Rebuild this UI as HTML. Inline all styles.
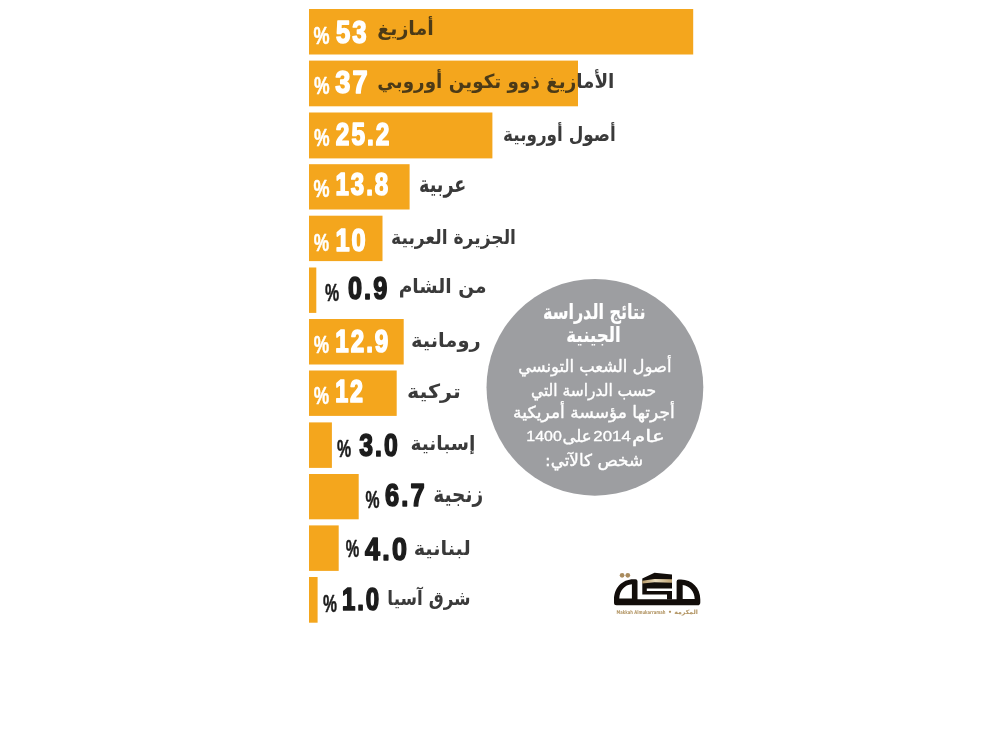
<!DOCTYPE html>
<html lang="ar">
<head>
<meta charset="utf-8">
<title>نتائج الدراسة الجينية</title>
<style>
html,body{margin:0;padding:0;background:#fff;}
body{width:1000px;height:750px;overflow:hidden;}
svg{display:block;}
.num{font-family:"Liberation Sans",sans-serif;font-weight:bold;}
.pct{font-family:"Liberation Sans",sans-serif;font-weight:bold;}
.lbl{font-family:"DejaVu Sans","Liberation Sans",sans-serif;}
.lblb{font-family:"DejaVu Sans","Liberation Sans",sans-serif;font-weight:bold;}
.ct{font-family:"DejaVu Sans","Liberation Sans",sans-serif;}
.ctb{font-family:"DejaVu Sans","Liberation Sans",sans-serif;font-weight:bold;}
.cnum{font-family:"Liberation Sans",sans-serif;}
.tag{font-family:"DejaVu Sans","Liberation Sans",sans-serif;}
</style>
</head>
<body>
<svg width="1000" height="750" viewBox="0 0 1000 750">
<g fill="#F4A61D">
<rect x="309.0" y="9.0" width="384.2" height="45.5"/>
<rect x="309.0" y="60.6" width="269.0" height="45.7"/>
<rect x="309.0" y="112.5" width="183.4" height="45.9"/>
<rect x="309.0" y="164.2" width="100.6" height="45.3"/>
<rect x="309.0" y="215.7" width="73.5" height="45.4"/>
<rect x="309.0" y="267.5" width="7.3" height="45.4"/>
<rect x="309.0" y="319.0" width="94.7" height="45.5"/>
<rect x="309.0" y="370.5" width="87.7" height="45.4"/>
<rect x="309.0" y="422.4" width="22.9" height="45.5"/>
<rect x="309.0" y="474.0" width="49.7" height="45.3"/>
<rect x="309.0" y="525.4" width="29.7" height="45.5"/>
<rect x="309.0" y="577.0" width="8.6" height="45.7"/>
</g>
<circle cx="594.9" cy="387.3" r="108.4" fill="#9D9EA1"/>
<defs><linearGradient id="lbl2" gradientUnits="userSpaceOnUse" x1="300" y1="0" x2="700" y2="0"><stop offset="0.6950" stop-color="#4b3a17"/><stop offset="0.6950" stop-color="#3A3A3A"/></linearGradient><linearGradient id="gold" x1="0" x2="1" y1="0" y2="0"><stop offset="0" stop-color="#b59765"/><stop offset="0.45" stop-color="#e8dabc"/><stop offset="1" stop-color="#bfa373"/></linearGradient></defs>
<text class="pct" x="313.50" y="43.50" font-size="23.50" fill="#fff" stroke="#fff" stroke-width="0.50" stroke-linejoin="round" textLength="16.05" lengthAdjust="spacingAndGlyphs">%</text>
<text class="num" transform="translate(336.00,43.00) scale(0.8017,1)" font-size="32.00" letter-spacing="2.60" fill="#fff" stroke="#fff" stroke-width="1.50" stroke-linejoin="round" vector-effect="non-scaling-stroke">53</text>
<text class="lblb" x="433.80" y="35.40" font-size="19.50" fill="#4b3a17" textLength="56.52" lengthAdjust="spacingAndGlyphs" direction="rtl">أمازيغ</text>
<text class="pct" x="313.90" y="94.20" font-size="23.50" fill="#fff" stroke="#fff" stroke-width="0.50" stroke-linejoin="round" textLength="15.57" lengthAdjust="spacingAndGlyphs">%</text>
<text class="num" transform="translate(335.20,93.40) scale(0.8493,1)" font-size="32.00" letter-spacing="2.60" fill="#fff" stroke="#fff" stroke-width="1.50" stroke-linejoin="round" vector-effect="non-scaling-stroke">37</text>
<text class="lblb" x="614.40" y="88.00" font-size="19.50" fill="url(#lbl2)" textLength="237.13" lengthAdjust="spacingAndGlyphs" direction="rtl">الأمازيغ ذوو تكوين أوروبي</text>
<text class="pct" x="313.90" y="146.20" font-size="23.50" fill="#fff" stroke="#fff" stroke-width="0.50" stroke-linejoin="round" textLength="15.57" lengthAdjust="spacingAndGlyphs">%</text>
<text class="num" transform="translate(335.80,145.40) scale(0.7644,1)" font-size="32.00" letter-spacing="2.60" fill="#fff" stroke="#fff" stroke-width="1.50" stroke-linejoin="round" vector-effect="non-scaling-stroke">25.2</text>
<text class="lblb" x="615.80" y="140.50" font-size="19.50" fill="#3A3A3A" textLength="112.70" lengthAdjust="spacingAndGlyphs" direction="rtl">أصول أوروبية</text>
<text class="pct" x="313.50" y="196.50" font-size="23.50" fill="#fff" stroke="#fff" stroke-width="0.50" stroke-linejoin="round" textLength="16.05" lengthAdjust="spacingAndGlyphs">%</text>
<text class="num" transform="translate(335.50,195.00) scale(0.7513,1)" font-size="32.00" letter-spacing="2.60" fill="#fff" stroke="#fff" stroke-width="1.50" stroke-linejoin="round" vector-effect="non-scaling-stroke">13.8</text>
<text class="lblb" x="466.30" y="192.00" font-size="22.50" fill="#3A3A3A" textLength="47.28" lengthAdjust="spacingAndGlyphs" direction="rtl">عربية</text>
<text class="pct" x="313.80" y="251.20" font-size="23.50" fill="#fff" stroke="#fff" stroke-width="0.50" stroke-linejoin="round" textLength="15.37" lengthAdjust="spacingAndGlyphs">%</text>
<text class="num" transform="translate(335.40,250.80) scale(0.7934,1)" font-size="32.00" letter-spacing="2.60" fill="#fff" stroke="#fff" stroke-width="1.50" stroke-linejoin="round" vector-effect="non-scaling-stroke">10</text>
<text class="lblb" x="516.00" y="244.20" font-size="19.50" fill="#3A3A3A" textLength="124.94" lengthAdjust="spacingAndGlyphs" direction="rtl">الجزيرة العربية</text>
<text class="pct" x="324.90" y="301.00" font-size="23.50" fill="#1C1C1C" stroke="#1C1C1C" stroke-width="0.50" stroke-linejoin="round" textLength="14.15" lengthAdjust="spacingAndGlyphs">%</text>
<text class="num" transform="translate(348.00,299.20) scale(0.7905,1)" font-size="32.00" letter-spacing="2.60" fill="#1C1C1C" stroke="#1C1C1C" stroke-width="1.50" stroke-linejoin="round" vector-effect="non-scaling-stroke">0.9</text>
<text class="lblb" x="486.50" y="292.50" font-size="19.50" fill="#3A3A3A" textLength="87.84" lengthAdjust="spacingAndGlyphs" direction="rtl">من الشام</text>
<text class="pct" x="313.80" y="353.40" font-size="23.50" fill="#fff" stroke="#fff" stroke-width="0.50" stroke-linejoin="round" textLength="15.37" lengthAdjust="spacingAndGlyphs">%</text>
<text class="num" transform="translate(335.30,352.00) scale(0.7559,1)" font-size="32.00" letter-spacing="2.60" fill="#fff" stroke="#fff" stroke-width="1.50" stroke-linejoin="round" vector-effect="non-scaling-stroke">12.9</text>
<text class="lblb" x="480.70" y="347.00" font-size="19.50" fill="#3A3A3A" textLength="69.66" lengthAdjust="spacingAndGlyphs" direction="rtl">رومانية</text>
<text class="pct" x="313.80" y="403.80" font-size="23.50" fill="#fff" stroke="#fff" stroke-width="0.50" stroke-linejoin="round" textLength="15.37" lengthAdjust="spacingAndGlyphs">%</text>
<text class="num" transform="translate(335.20,402.00) scale(0.7290,1)" font-size="32.00" letter-spacing="2.60" fill="#fff" stroke="#fff" stroke-width="1.50" stroke-linejoin="round" vector-effect="non-scaling-stroke">12</text>
<text class="lblb" x="460.80" y="398.00" font-size="19.50" fill="#3A3A3A" textLength="53.78" lengthAdjust="spacingAndGlyphs" direction="rtl">تركية</text>
<text class="pct" x="336.90" y="457.40" font-size="23.50" fill="#1C1C1C" stroke="#1C1C1C" stroke-width="0.50" stroke-linejoin="round" textLength="14.15" lengthAdjust="spacingAndGlyphs">%</text>
<text class="num" transform="translate(359.30,456.00) scale(0.7739,1)" font-size="32.00" letter-spacing="2.60" fill="#1C1C1C" stroke="#1C1C1C" stroke-width="1.50" stroke-linejoin="round" vector-effect="non-scaling-stroke">3.0</text>
<text class="lblb" x="475.40" y="449.60" font-size="19.50" fill="#3A3A3A" textLength="64.96" lengthAdjust="spacingAndGlyphs" direction="rtl">إسبانية</text>
<text class="pct" x="365.40" y="507.60" font-size="23.50" fill="#1C1C1C" stroke="#1C1C1C" stroke-width="0.50" stroke-linejoin="round" textLength="14.01" lengthAdjust="spacingAndGlyphs">%</text>
<text class="num" transform="translate(385.10,506.20) scale(0.7948,1)" font-size="32.00" letter-spacing="2.60" fill="#1C1C1C" stroke="#1C1C1C" stroke-width="1.50" stroke-linejoin="round" vector-effect="non-scaling-stroke">6.7</text>
<text class="lblb" x="483.10" y="501.60" font-size="22.50" fill="#3A3A3A" textLength="49.89" lengthAdjust="spacingAndGlyphs" direction="rtl">زنجية</text>
<text class="pct" x="345.70" y="557.20" font-size="23.50" fill="#1C1C1C" stroke="#1C1C1C" stroke-width="0.50" stroke-linejoin="round" textLength="13.48" lengthAdjust="spacingAndGlyphs">%</text>
<text class="num" transform="translate(365.10,559.50) scale(0.8405,1)" font-size="32.00" letter-spacing="2.60" fill="#1C1C1C" stroke="#1C1C1C" stroke-width="1.50" stroke-linejoin="round" vector-effect="non-scaling-stroke">4.0</text>
<text class="lblb" x="470.70" y="554.60" font-size="19.50" fill="#3A3A3A" textLength="57.05" lengthAdjust="spacingAndGlyphs" direction="rtl">لبنانية</text>
<text class="pct" x="323.00" y="612.00" font-size="23.50" fill="#1C1C1C" stroke="#1C1C1C" stroke-width="0.50" stroke-linejoin="round" textLength="13.94" lengthAdjust="spacingAndGlyphs">%</text>
<text class="num" transform="translate(341.90,610.20) scale(0.7506,1)" font-size="32.00" letter-spacing="2.60" fill="#1C1C1C" stroke="#1C1C1C" stroke-width="1.50" stroke-linejoin="round" vector-effect="non-scaling-stroke">1.0</text>
<text class="lblb" x="470.60" y="605.00" font-size="19.50" fill="#3A3A3A" textLength="83.24" lengthAdjust="spacingAndGlyphs" direction="rtl">شرق آسيا</text>
<text class="ctb" x="645.60" y="318.80" font-size="20.50" fill="#fff" stroke="#fff" stroke-width="0.20" stroke-linejoin="round" textLength="102.66" lengthAdjust="spacingAndGlyphs" direction="rtl">نتائج الدراسة</text>
<text class="ctb" x="620.60" y="342.20" font-size="20.50" fill="#fff" stroke="#fff" stroke-width="0.20" stroke-linejoin="round" textLength="54.29" lengthAdjust="spacingAndGlyphs" direction="rtl">الجينية</text>
<text class="ct" x="671.50" y="371.50" font-size="16.50" fill="#fff" stroke="#fff" stroke-width="0.40" stroke-linejoin="round" textLength="153.29" lengthAdjust="spacingAndGlyphs" direction="rtl">أصول الشعب التونسي</text>
<text class="ct" x="656.20" y="395.80" font-size="16.50" fill="#fff" stroke="#fff" stroke-width="0.40" stroke-linejoin="round" textLength="125.17" lengthAdjust="spacingAndGlyphs" direction="rtl">حسب الدراسة التي</text>
<text class="ct" x="674.80" y="418.20" font-size="16.50" fill="#fff" stroke="#fff" stroke-width="0.40" stroke-linejoin="round" textLength="161.67" lengthAdjust="spacingAndGlyphs" direction="rtl">أجرتها مؤسسة أمريكية</text>
<text class="ct" x="664.70" y="442.10" font-size="16.50" fill="#fff" stroke="#fff" stroke-width="0.40" stroke-linejoin="round" textLength="32.62" lengthAdjust="spacingAndGlyphs" direction="rtl">عام</text>
<text class="ct" x="591.50" y="442.10" font-size="16.50" fill="#fff" stroke="#fff" stroke-width="0.40" stroke-linejoin="round" textLength="29.06" lengthAdjust="spacingAndGlyphs" direction="rtl">على</text>
<text class="ct" x="643.00" y="465.50" font-size="16.50" fill="#fff" stroke="#fff" stroke-width="0.40" stroke-linejoin="round" textLength="97.99" lengthAdjust="spacingAndGlyphs" direction="rtl">شخص كالآتي:</text>
<text class="cnum" x="526.30" y="441.40" font-size="15.30" fill="#fff" stroke="#fff" stroke-width="0.35" stroke-linejoin="round" textLength="35.48" lengthAdjust="spacingAndGlyphs">1400</text>
<text class="cnum" x="593.30" y="441.40" font-size="15.30" fill="#fff" stroke="#fff" stroke-width="0.35" stroke-linejoin="round" textLength="37.48" lengthAdjust="spacingAndGlyphs">2014</text>
<g id="logo">
<path fill="#120d0a" fill-rule="evenodd" d="M616.5,605.2 Q614,605.2 614,602.7 L614,599.5 C614,588 622,579.2 633.5,579.2 L635.5,579.2 Q637.5,579.2 637.5,581.2 L637.5,599.2 L676.6,599.2 L676.6,581.5 Q676.6,579.5 678.6,579.5 L681,579.5 C692,579.5 700.3,588 700.3,599.5 L700.3,602.4 Q700.3,605.2 697.5,605.2 Z M631.9,584.2 L631.9,598.6 L619.3,598.6 C619.5,590.5 624.5,584.8 631.9,584.2 Z M682.7,585 L682.7,598.9 L694.7,598.9 C694.5,591.5 689.5,585.8 682.7,585 Z"/>
<path fill="#120d0a" d="M642.3,578.6 L654.5,572.8 L672,574.5 L672,588.5 L646.8,588.5 L646.8,591 L672,591 L672,599.4 L667,599.4 L667,594.4 L642.3,594.4 Z"/>
<path fill="url(#gold)" d="M642.3,580.7 L654.5,579.0 L672,579.2 L672,582.7 L654.5,582.2 L642.3,583.6 Z"/>
<circle cx="622.1" cy="575.3" r="2.35" fill="#a98b5d"/>
<circle cx="627.8" cy="575.3" r="2.35" fill="#a98b5d"/>
<text class="tag" x="616.5" y="613.8" font-size="5.2" font-weight="bold" fill="#b0925f" textLength="49" lengthAdjust="spacingAndGlyphs">Makkah Almukarramah</text>
<text class="tag" x="698" y="613.8" font-size="6" font-weight="bold" fill="#b0925f" direction="rtl" textLength="30" lengthAdjust="spacingAndGlyphs">المكرمة •</text>
</g>

</svg>
</body>
</html>
